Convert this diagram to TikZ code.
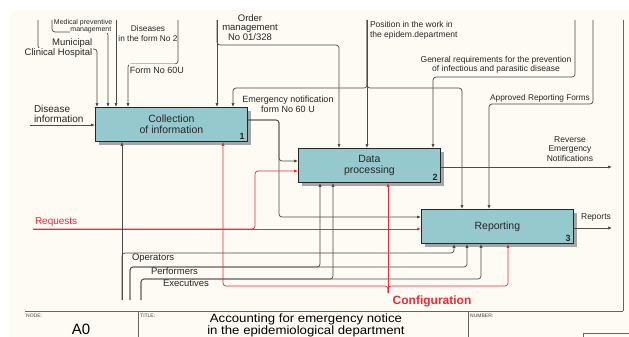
\documentclass[tikz,border=0pt]{standalone}
\usepackage{fontspec}
\setmainfont{Liberation Sans}
\usepackage{graphicx}
\usetikzlibrary{arrows.meta,shadows}
\definecolor{bg}{RGB}{253,251,243}
\definecolor{boxc}{RGB}{150,201,205}
\definecolor{ln}{RGB}{75,75,75}
\definecolor{rd}{RGB}{232,45,58}
\begin{document}
\begin{tikzpicture}[x=1pt,y=-1pt,
  flow/.style={draw=ln,line width=0.7pt,rounded corners=3pt},
  rflow/.style={draw=rd,line width=0.7pt,rounded corners=3pt},
  arr/.style={-{Latex[length=4pt,width=3.2pt]}},
  frm/.style={draw=black!60,line width=0.7pt},
  lbl/.style={font=\fontsize{8.5}{9.5}\selectfont,inner sep=0.8pt,text=black!85,align=center},
  lblf/.style={lbl,fill=bg},
  act/.style={draw=black!85,fill=boxc,line width=0.8pt,anchor=north west,
    minimum height=34pt,align=center,text=black!85,
    font=\fontsize{10.5}{11.5}\selectfont,
    drop shadow={shadow xshift=4pt,shadow yshift=-4pt,fill=black!35,opacity=1}},
  num/.style={font=\bfseries\fontsize{9}{9}\selectfont,anchor=south east,inner sep=0pt,text=black!85},
  tiny/.style={font=\fontsize{5}{5}\selectfont,anchor=north west,inner sep=0pt,text=black!75}
]
\useasboundingbox (0,0) rectangle (629,337);
\fill[white] (0,0) rectangle (629,337);
\fill[bg] (10,10) rectangle (629,337);

% frame
\draw[frm] (25,311) -- (623,311);
\draw[frm] (623,20) -- (623,311);
\draw[frm] (138,311) -- (138,337);
\draw[frm] (468,311) -- (468,337);
\draw[frm] (629,333) -- (583,333) -- (583,337);
\node[tiny] (tnode) at (26,313.5) {NODE:};
\node[tiny] (ttitle) at (140,313.5) {TITLE:};
\node[tiny] (tnum) at (470,313.5) {NUMBER:};
\node[font=\fontsize{15}{15}\selectfont,inner sep=0pt] (a0) at (81,329) {A0};
\node[font=\fontsize{12}{12}\selectfont,inner sep=0pt,align=center] (title) at (306,325.5)
  {\scalebox{1.1}[1]{Accounting for emergency notice}\\\scalebox{1.1}[1]{in the epidemiological department}};

% activity boxes
\node[act,minimum width=152pt] (b1) at (95,107) {Collection\\of information};
\node[act,minimum width=142pt] (b2) at (298,148) {Data\\processing};
\node[act,minimum width=152pt] (b3) at (421,209) {Reporting};
\node[num] (n1) at ([xshift=-3pt,yshift=2.5pt]b1.south east) {1};
\node[num] (n2) at ([xshift=-3pt,yshift=2.5pt]b2.south east) {2};
\node[num] (n3) at ([xshift=-3pt,yshift=2.5pt]b3.south east) {3};

% free ends
\coordinate (iMun) at (38,20);
\coordinate (iMed) at (52,20);
\coordinate (iDis) at (116,20);
\coordinate (iForm) at (178,20);
\coordinate (iOrd) at (217,20);
\coordinate (iPos) at (367,20);
\coordinate (iGen) at (575,20);
\coordinate (iApp) at (593,20);
\coordinate (iDI) at (30,125);
\coordinate (iReq) at (33,229);
\coordinate (oRev) at (612,167);
\coordinate (oRep) at (612,228);
\coordinate (mOp) at (122,300);
\coordinate (mPerf) at (130,300);
\coordinate (mExe) at (141,300);
\coordinate (mConf) at (388,293);

% controls
\draw[flow,arr] (iMun) -- (38,49) -- (97,49) -- (b1.north -| 97,0);
\draw[flow,arr] (iMed) -- (52,32) -- (108,32) -- (b1.north -| 108,0);
\draw[flow,arr] (iDis) -- (b1.north -| 116,0);
\draw[flow,arr] (iForm) -- (178,64) -- (128,64) -- (b1.north -| 128,0);
\draw[flow,arr] (iOrd) -- (b1.north -| 217,0);
\draw[flow,arr] (iOrd) -- (217,45) -- (339,45) -- (b2.north -| 339,0);
\draw[flow,arr] (iPos) -- (b2.north -| 367,0);
\draw[flow,arr] (iPos) -- (367,88) -- (233,88) -- (b1.north -| 233,0);
\draw[flow,arr] (iPos) -- (367,88) -- (462,88) -- (b3.north -| 462,0);
\draw[flow,arr] (iGen) -- (575,77) -- (433,77) -- (b2.north -| 433,0);
\draw[flow,arr] (iApp) -- (593,104) -- (489,104) -- (b3.north -| 489,0);

% inputs / outputs
\draw[flow,arr] (iDI) -- (b1.west |- 0,125);
\draw[flow,arr] (b1.east |- 0,120) -- (279,120) -- (279,161) -- (b2.west |- 0,161);
\draw[flow,arr] (b1.east |- 0,120) -- (279,120) -- (279,217) -- (b3.west |- 0,217);
\draw[rflow,arr] (iReq) -- (b3.west |- 0,229);
\draw[rflow,arr] (iReq) -- (255,229) -- (255,171) -- (b2.west |- 0,171);
\draw[flow,arr] (b2.east |- 0,167) -- (oRev);
\draw[flow,arr] (b3.east |- 0,228) -- (oRep);

% mechanisms
\draw[flow,arr] (mOp) -- (b1.south -| 122,0);
\draw[flow,arr] (mOp) -- (122,253) -- (454,253) -- (b3.south -| 454,0);
\draw[flow,arr] (mPerf) -- (130,267) -- (467,267) -- (b3.south -| 467,0);
\draw[flow,arr] (mPerf) -- (130,267) -- (320,267) -- (b2.south -| 320,0);
\draw[flow,arr] (mExe) -- (141,279) -- (481,279) -- (b3.south -| 481,0);
\draw[flow,arr] (mExe) -- (141,279) -- (333,279) -- (b2.south -| 333,0);
\draw[rflow,arr] (mConf) -- (b2.south -| 388,0);
\draw[rflow,arr] (mConf) -- (388,286) -- (223,286) -- (b1.south -| 223,0);
\draw[rflow,arr] (mConf) -- (388,286) -- (508,286) -- (b3.south -| 508,0);

% labels
\node[lblf,font=\fontsize{7}{7}\selectfont,anchor=east,inner sep=0.5pt] (lMed1) at (113,22.5) {Medical preventive};
\node[lblf,font=\fontsize{7}{7}\selectfont,anchor=east,inner sep=0.5pt] (lMed2) at (112,29.5) {management};
\node[lblf,font=\fontsize{9.5}{9.5}\selectfont,anchor=east,inner sep=0.5pt,minimum height=9.5pt] (lMun1) at (93,43.5) {Municipal};
\node[lblf,font=\fontsize{9.5}{9.5}\selectfont,anchor=east,inner sep=0.5pt,minimum height=9.5pt] (lMun2) at (93,53) {Clinical Hospital};
\node[lbl,font=\fontsize{8.3}{9.5}\selectfont] (lDis) at (148,33.5) {Diseases\\in the form No 2};
\node[lblf,font=\fontsize{9}{9}\selectfont,inner xsep=0.5pt,inner ysep=3pt] (lForm) at (157,70.5) {Form No 60U};
\node[lbl,font=\fontsize{9.5}{9.7}\selectfont] (lOrd) at (250,27.5) {Order\\management\\No 01/328};
\node[lbl,font=\fontsize{9}{10.5}\selectfont] (lEm) at (288,104.5) {Emergency notification\\form No 60 U};
\node[lbl,align=left,anchor=north west] (lPos) at (369,20.5) {Position in the work in\\the epidem.department};
\node[lbl] (lGen) at (496,65) {General requirements for the prevention\\of infectious and parasitic disease};
\node[lbl,font=\fontsize{8.3}{9}\selectfont] (lApp) at (540,98) {Approved Reporting Forms};
\node[lbl] (lRev) at (570,149) {Reverse\\Emergency\\Notifications};
\node[lbl] (lRep) at (596,217) {Reports};
\node[lbl,align=left,anchor=west,font=\fontsize{10}{9.5}\selectfont] (lDI) at (33,114) {Disease\\information};
\node[lbl,anchor=west,font=\fontsize{10}{10}\selectfont,text=rd] (lReq) at (34,222) {Requests};
\node[lbl,anchor=west,font=\fontsize{9.5}{9.5}\selectfont] (lOp) at (131,258.5) {Operators};
\node[lbl,anchor=west,font=\fontsize{9.5}{9.5}\selectfont] (lPerf) at (150,271.5) {Performers};
\node[lbl,anchor=west,font=\fontsize{9.5}{9.5}\selectfont] (lExe) at (162,283.5) {Executives};
\node[lbl,font=\bfseries\fontsize{12}{12}\selectfont,text=rd] (lConf) at (432,301) {Configuration};
\end{tikzpicture}
\end{document}
